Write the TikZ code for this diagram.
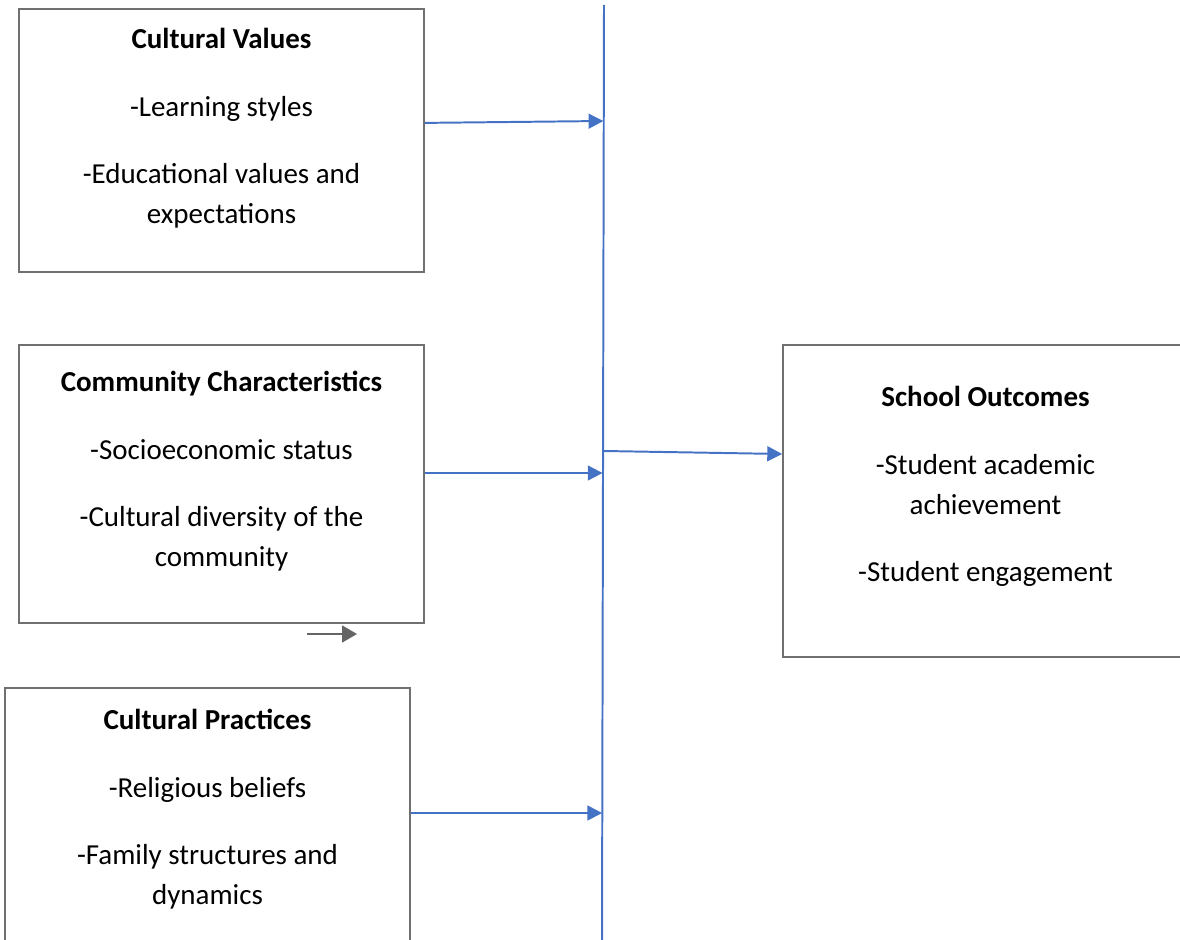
\documentclass[tikz,border=0pt]{standalone}
\usepackage{fontspec}
\setmainfont{Carlito}
\usetikzlibrary{arrows.meta}
\definecolor{linkblue}{HTML}{4472C4}
\definecolor{boxgray}{HTML}{707070}

\begin{document}
\begin{tikzpicture}
[x=0.025cm,y=-0.025cm,%
  every node/.style={inner sep=0pt},%
  box/.style={draw=boxgray,line width=1.2pt,minimum width=10.125cm},%
  boxtext/.style={align=center,anchor=north,
    font=\fontsize{20.6pt}{28.45pt}\selectfont},%
  flow/.style={draw=linkblue,line width=1.4pt,
    -{Triangle[length=0.37cm,width=0.37cm]}}]
\useasboundingbox (0,0) rectangle (1180,940);
\clip (0,0) rectangle (1180,940);

% boxes
\node[box,minimum height=6.575cm] (values) at (221.5,140.5) {};
\node[box,minimum height=6.95cm] (community) at (221.5,484) {};
\node[box,minimum height=6.8cm] (practices) at (207.5,824) {};
\node[box,minimum height=7.8cm] (outcomes) at (985.5,501) {};

% texts
\node[boxtext] (valuestxt) at (221.5,28)
  {\textbf{Cultural Values}\\[0.7cm]-Learning styles\\[0.675cm]%
   -Educational values and\\expectations};
\node[boxtext] (communitytxt) at (221.5,371)
  {\textbf{Community Characteristics}\\[0.7cm]-Socioeconomic status\\[0.675cm]%
   -Cultural diversity of the\\community};
\node[boxtext] (practicestxt) at (207.5,709)
  {\textbf{Cultural Practices}\\[0.7cm]-Religious beliefs\\[0.675cm]%
   -Family structures and\\dynamics};
\node[boxtext] (outcomestxt) at (985.5,386)
  {\textbf{School Outcomes}\\[0.7cm]-Student academic\\achievement\\[0.675cm]%
   -Student engagement};

% the bar
\coordinate (bartop) at (604,5);
\coordinate (barbot) at (602,945);
\draw[linkblue,line width=1.4pt] (bartop) -- (barbot);

\coordinate (in1) at (603.4,121);
\coordinate (in2) at (602.6,473);
\coordinate (in3) at (602.2,813);
\coordinate (out) at (604,451);
\draw[flow] ([yshift=0.44cm]values.east) -- (in1);
\draw[flow] ([yshift=0.275cm]community.east) -- (in2);
\draw[flow] ([yshift=0.275cm]practices.east) -- (in3);
\draw[flow] (out) -- ([yshift=1.175cm]outcomes.west);

% stray arrow
\coordinate (stubA) at (307,634);
\coordinate (stubB) at (357,634);
\draw[boxgray!90!black,line width=1.4pt,
  -{Triangle[length=0.37cm,width=0.42cm]}] (stubA) -- (stubB);
\end{tikzpicture}
\end{document}
